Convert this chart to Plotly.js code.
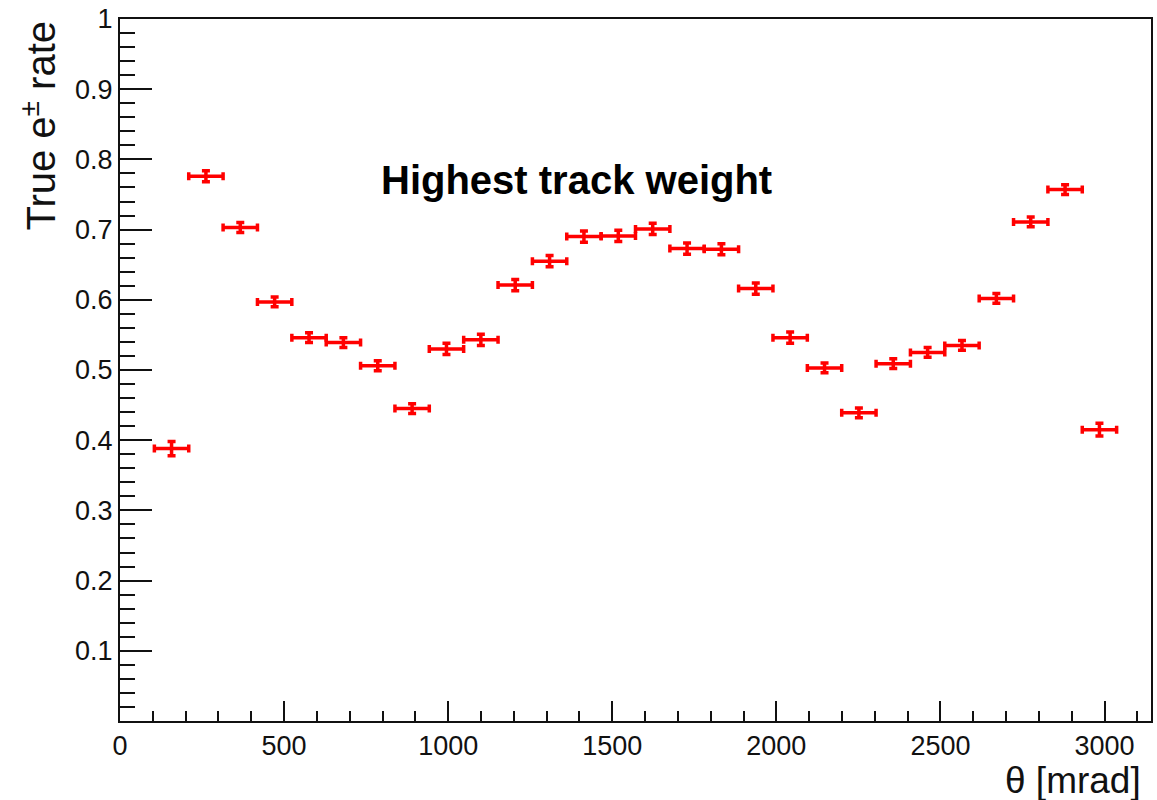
<!DOCTYPE html>
<html>
<head>
<meta charset="utf-8">
<script src="https://cdn.plot.ly/plotly-3.0.1.min.js"></script>
<style>html,body{margin:0;padding:0;background:#fff;}#chart{width:1157px;height:800px;}</style>
</head>
<body>
<div id="chart"></div>
<script>
// bin centres (mrad), 30 bins of pi/30 rad from 0 to pi; bins 1..28 filled
var thetaCenters = [157.1, 261.8, 366.5, 471.2, 576.0, 680.7, 785.4, 890.1, 994.8, 1099.6,
  1204.3, 1309.0, 1413.7, 1518.4, 1623.2, 1727.9, 1832.6, 1937.3, 2042.0, 2146.8,
  2251.5, 2356.2, 2460.9, 2565.6, 2670.4, 2775.1, 2879.8, 2984.5];
var thetaHalfWidth = [52.36, 52.36, 52.36, 52.36, 52.36, 52.36, 52.36, 52.36, 52.36, 52.36,
  52.36, 52.36, 52.36, 52.36, 52.36, 52.36, 52.36, 52.36, 52.36, 52.36,
  52.36, 52.36, 52.36, 52.36, 52.36, 52.36, 52.36, 52.36];
var trueRate = [0.388, 0.776, 0.703, 0.597, 0.546, 0.539, 0.506, 0.445, 0.530, 0.543,
  0.621, 0.655, 0.690, 0.691, 0.701, 0.673, 0.672, 0.616, 0.546, 0.503,
  0.439, 0.509, 0.525, 0.535, 0.602, 0.711, 0.757, 0.415];
var rateErr = [0.010, 0.008, 0.007, 0.007, 0.007, 0.007, 0.007, 0.007, 0.008, 0.008,
  0.008, 0.008, 0.008, 0.008, 0.008, 0.008, 0.008, 0.008, 0.008, 0.007,
  0.007, 0.007, 0.007, 0.007, 0.007, 0.007, 0.007, 0.009];
var yTickVals = [0.1, 0.2, 0.3, 0.4, 0.5, 0.6, 0.7, 0.8, 0.9, 1];
var yTickText = ['0.1', '0.2', '0.3', '0.4', '0.5', '0.6', '0.7', '0.8', '0.9', '1'];
var xTickVals = [0, 500, 1000, 1500, 2000, 2500, 3000];
var xTickText = ['0', '500', '1000', '1500', '2000', '2500', '3000'];

var red = '#ff0000';
var trace = {
  type: 'scatter',
  mode: 'markers',
  x: thetaCenters,
  y: trueRate,
  marker: {color: red, size: 3},
  error_x: {type: 'data', array: thetaHalfWidth, visible: true, color: red, thickness: 3.5, width: 4},
  error_y: {type: 'data', array: rateErr, visible: true, color: red, thickness: 3.5, width: 4},
  hoverinfo: 'x+y'
};

var font = 'Liberation Sans, Arial, Helvetica, sans-serif';
var layout = {
  width: 1157, height: 800,
  margin: {l: 120, r: 6, t: 19, b: 79},
  paper_bgcolor: '#ffffff', plot_bgcolor: '#ffffff',
  showlegend: false,
  font: {family: font, color: '#000'},
  xaxis: {
    range: [0, 3141.6],
    showgrid: false, zeroline: false,
    showline: true, linecolor: '#111', linewidth: 2, mirror: true,
    tickmode: 'array', tickvals: xTickVals, ticktext: xTickText,
    ticks: 'inside', ticklen: 20, tickwidth: 2, tickcolor: '#111',
    tickfont: {family: font, size: 27, color: '#111'},
    minor: {tickmode: 'linear', tick0: 0, dtick: 100, ticks: 'inside', ticklen: 10, tickwidth: 2, tickcolor: '#111', showgrid: false}
  },
  yaxis: {
    range: [0, 1],
    showgrid: false, zeroline: false,
    showline: true, linecolor: '#111', linewidth: 2, mirror: true,
    tickmode: 'array', tickvals: yTickVals, ticktext: yTickText,
    ticks: 'inside', ticklen: 32, tickwidth: 2, tickcolor: '#111',
    tickfont: {family: font, size: 27, color: '#111'},
    minor: {tickmode: 'linear', tick0: 0, dtick: 0.02, ticks: 'inside', ticklen: 15, tickwidth: 2, tickcolor: '#111', showgrid: false}
  },
  annotations: [
    {text: '<b>Highest track weight</b>', xref: 'paper', yref: 'paper', x: 0.443, y: 0.77,
     xanchor: 'center', yanchor: 'middle', showarrow: false, font: {family: font, size: 40, color: '#000'}},
    {text: 'True e<sup>±</sup> rate', xref: 'paper', yref: 'paper', x: -0.079, y: 1.0,
     xanchor: 'center', yanchor: 'top', textangle: -90, showarrow: false, font: {family: font, size: 40, color: '#111'}},
    {text: 'θ [mrad]', xref: 'paper', yref: 'paper', x: 0.992, y: -0.085,
     xanchor: 'right', yanchor: 'middle', showarrow: false, font: {family: font, size: 37, color: '#111'}}
  ]
};

Plotly.newPlot('chart', [trace], layout, {displayModeBar: false, staticPlot: true});
</script>
</body>
</html>
